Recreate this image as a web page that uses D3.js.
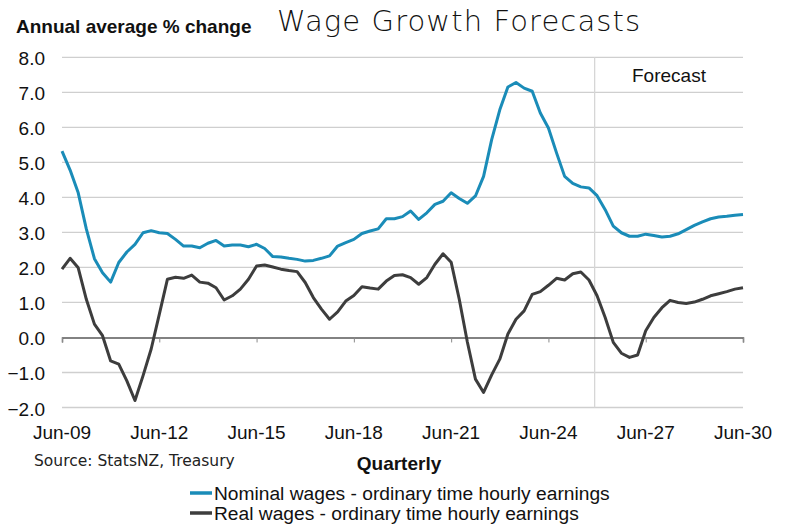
<!DOCTYPE html>
<html>
<head>
<meta charset="utf-8">
<script src="https://cdn.jsdelivr.net/npm/d3@7"></script>
<style>
  body { margin: 0; background: #fff; }
  svg { display: block; }
</style>
</head>
<body>
<svg id="chart" width="800" height="524"></svg>
<script>

// quarterly, Jun-09 (index 0) to Jun-30 (index 84)
var nominal = [5.32, 4.78, 4.13, 3.1, 2.25, 1.85, 1.58, 2.14, 2.44, 2.66,
               2.99, 3.05, 2.99, 2.97, 2.8, 2.61, 2.61, 2.56, 2.69, 2.77,
               2.61, 2.64, 2.64, 2.59, 2.66, 2.54, 2.31, 2.3, 2.26, 2.23,
               2.18, 2.2, 2.26, 2.33, 2.61, 2.71, 2.8, 2.97, 3.04, 3.1,
               3.39, 3.39, 3.45, 3.61, 3.37, 3.56, 3.8, 3.89, 4.13, 3.97,
               3.83, 4.04, 4.6, 5.65, 6.5, 7.15, 7.28, 7.12, 7.03, 6.41,
               5.98, 5.27, 4.6, 4.4, 4.3, 4.27, 4.05, 3.65, 3.18, 2.99,
               2.89, 2.89, 2.95, 2.91, 2.87, 2.89, 2.96, 3.08, 3.2, 3.3,
               3.39, 3.44, 3.46, 3.49, 3.51];

var real = [1.95, 2.26, 1.99, 1.09, 0.38, 0.05, -0.67, -0.76, -1.24, -1.8,
            -1.09, -0.33, 0.66, 1.66, 1.72, 1.69, 1.78, 1.58, 1.55, 1.42,
            1.07, 1.19, 1.38, 1.66, 2.04, 2.07, 2.01, 1.95, 1.91, 1.88,
            1.57, 1.14, 0.81, 0.52, 0.73, 1.04, 1.2, 1.45, 1.41, 1.38,
            1.61, 1.77, 1.79, 1.71, 1.52, 1.71, 2.09, 2.39, 2.15, 1.09,
            -0.13, -1.19, -1.57, -1.07, -0.62, 0.1, 0.52, 0.76, 1.23, 1.31,
            1.49, 1.69, 1.64, 1.82, 1.87, 1.64, 1.19, 0.57, -0.14, -0.45,
            -0.57, -0.5, 0.19, 0.57, 0.85, 1.06, 1.0, 0.97, 1.01, 1.09,
            1.19, 1.25, 1.31, 1.38, 1.42];

var xTickLabels = ["Jun-09", "Jun-12", "Jun-15", "Jun-18", "Jun-21", "Jun-24", "Jun-27", "Jun-30"];
var yTicks = [-2, -1, 0, 1, 2, 3, 4, 5, 6, 7, 8];
var forecastStart = 65.7;   // between Sep-25 and Dec-25
var seriesNames = ["Nominal wages - ordinary time hourly earnings",
                   "Real wages - ordinary time hourly earnings"];
var seriesColors = ["#1a8cb8", "#3d3d3d"];

var svg = d3.select("#chart");
var font = "'Liberation Sans', Arial, sans-serif";

var x = d3.scaleLinear().domain([0, nominal.length - 1]).range([62, 743]);
var y = d3.scaleLinear().domain([-2, 8]).range([407.5, 57.3]);

// gridlines
svg.append("g")
    .selectAll("line")
    .data(yTicks.filter(function(d){ return d != 0; }))
    .join("line")
        .attr("x1", x(0)).attr("x2", x(84))
        .attr("y1", function(d){ return y(d); })
        .attr("y2", function(d){ return y(d); })
        .attr("stroke", "#cfcfcf")
        .attr("stroke-width", 1.3);

// forecast divider
svg.append("line")
    .attr("x1", x(forecastStart)).attr("x2", x(forecastStart))
    .attr("y1", y(8)).attr("y2", y(-2))
    .attr("stroke", "#d6d6d6")
    .attr("stroke-width", 1.3);

svg.append("text")
    .attr("x", 632).attr("y", 81.5)
    .attr("font-family", font).attr("font-size", "19px")
    .attr("fill", "#111")
    .text("Forecast");

// y tick labels
svg.append("g")
    .selectAll("text")
    .data(yTicks)
    .join("text")
        .attr("x", 45)
        .attr("y", function(d){ return y(d) + 8; })
        .attr("text-anchor", "end")
        .attr("font-family", font).attr("font-size", "19px")
        .attr("fill", "#111")
        .text(function(d){ return d3.format(".1f")(d); });

// zero axis with ticks
var xTickIdx = xTickLabels.map(function(d, i){ return i * 12; });
var xAxis = d3.axisBottom(x)
    .tickValues(xTickIdx)
    .tickSize(5)
    .tickFormat("");
var ax = svg.append("g")
    .attr("transform", "translate(0," + y(0) + ")")
    .call(xAxis);
ax.select(".domain").attr("stroke", "#5a5a5a").attr("stroke-width", 1.5);
ax.selectAll(".tick line").attr("stroke", "#8a8a8a").attr("stroke-width", 1);

// x tick labels at the bottom
svg.append("g")
    .selectAll("text")
    .data(xTickLabels)
    .join("text")
        .attr("x", function(d, i){ return x(xTickIdx[i]); })
        .attr("y", 439)
        .attr("text-anchor", "middle")
        .attr("font-family", font).attr("font-size", "19px")
        .attr("fill", "#111")
        .text(function(d){ return d; });

// lines
var line = d3.line()
    .x(function(d, i){ return x(i); })
    .y(function(d){ return y(d); });

[nominal, real].forEach(function(ds, k){
    svg.append("path")
        .datum(ds)
        .attr("d", line)
        .attr("fill", "none")
        .attr("stroke", seriesColors[k])
        .attr("stroke-width", 3)
        .attr("stroke-linejoin", "round");
});

// titles
svg.append("text")
    .attr("x", 16).attr("y", 33)
    .attr("font-family", font).attr("font-size", "19px")
    .attr("font-weight", "bold")
    .attr("fill", "#111")
    .text("Annual average % change");

svg.append("text")
    .attr("x", 277).attr("y", 31)
    .attr("font-family", "'DejaVu Sans', sans-serif").attr("font-size", "29px")
    .attr("font-weight", 200)
    .attr("letter-spacing", "1.1px")
    .attr("fill", "#111")
    .text("Wage Growth Forecasts");

svg.append("text")
    .attr("x", 34).attr("y", 466)
    .attr("font-family", "'DejaVu Sans', sans-serif").attr("font-size", "15.5px")
    .attr("fill", "#222")
    .text("Source: StatsNZ, Treasury");

svg.append("text")
    .attr("x", 399).attr("y", 470)
    .attr("text-anchor", "middle")
    .attr("font-family", font).attr("font-size", "19px")
    .attr("font-weight", "bold")
    .attr("fill", "#111")
    .text("Quarterly");

// legend
var lg = svg.append("g");
seriesNames.forEach(function(name, k){
    var yy = 493 + k * 20;
    lg.append("line")
        .attr("x1", 190).attr("x2", 212)
        .attr("y1", yy).attr("y2", yy)
        .attr("stroke", seriesColors[k])
        .attr("stroke-width", 3.5);
    lg.append("text")
        .attr("x", 214).attr("y", yy + 7)
        .attr("font-family", font).attr("font-size", "19.2px")
        .attr("fill", "#111")
        .text(name);
});

</script>
</body>
</html>
